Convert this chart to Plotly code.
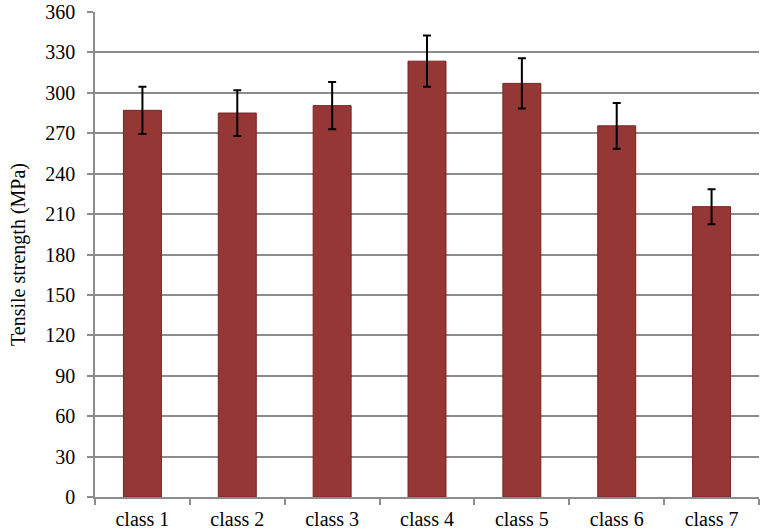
import plotly.graph_objects as go

categories = ["class 1", "class 2", "class 3", "class 4", "class 5", "class 6", "class 7"]
strength = [287, 285, 290.5, 323.5, 307, 275.5, 215.5]
err = [17.5, 17, 17.6, 19, 18.6, 17, 13]
y_ticks = list(range(0, 361, 30))

fig = go.Figure()
fig.add_trace(go.Bar(
    x=categories, y=strength,
    marker=dict(color="#953735", line=dict(color="#7a2222", width=1)),
    width=0.4,
    error_y=dict(type="data", array=err, visible=True, color="black", thickness=2, width=4),
))

font = "Liberation Serif, Times New Roman, serif"
fs = 20
fig.update_layout(
    width=765, height=529,
    margin=dict(l=95, r=6, t=12, b=32),
    paper_bgcolor="white", plot_bgcolor="white",
    showlegend=False,
    font=dict(family=font, size=fs, color="black"),
    xaxis=dict(
        type="category", tickson="boundaries", ticks="outside", ticklen=6,
        tickcolor="#8c8c8c", tickwidth=1.5,
        showline=True, linecolor="#8c8c8c", linewidth=1.5,
        showgrid=False, tickfont=dict(size=fs, family=font),
        ticklabelstandoff=3, automargin=False,
    ),
    yaxis=dict(
        range=[0, 360], tickvals=y_ticks, ticks="outside", ticklen=6,
        tickcolor="#8c8c8c", tickwidth=1.5,
        showline=True, linecolor="#8c8c8c", linewidth=1.5,
        showgrid=True, gridcolor="#8c8c8c", gridwidth=1.5,
        zeroline=False, tickfont=dict(size=fs, family=font),
        ticklabelstandoff=8, automargin=False,
        title=dict(text="Tensile strength (MPa)", font=dict(size=fs, family=font), standoff=14),
    ),
)
fig.write_html("out.html", config={"displayModeBar": False},
               post_script="document.body.style.margin='0';document.body.style.overflow='hidden';")
